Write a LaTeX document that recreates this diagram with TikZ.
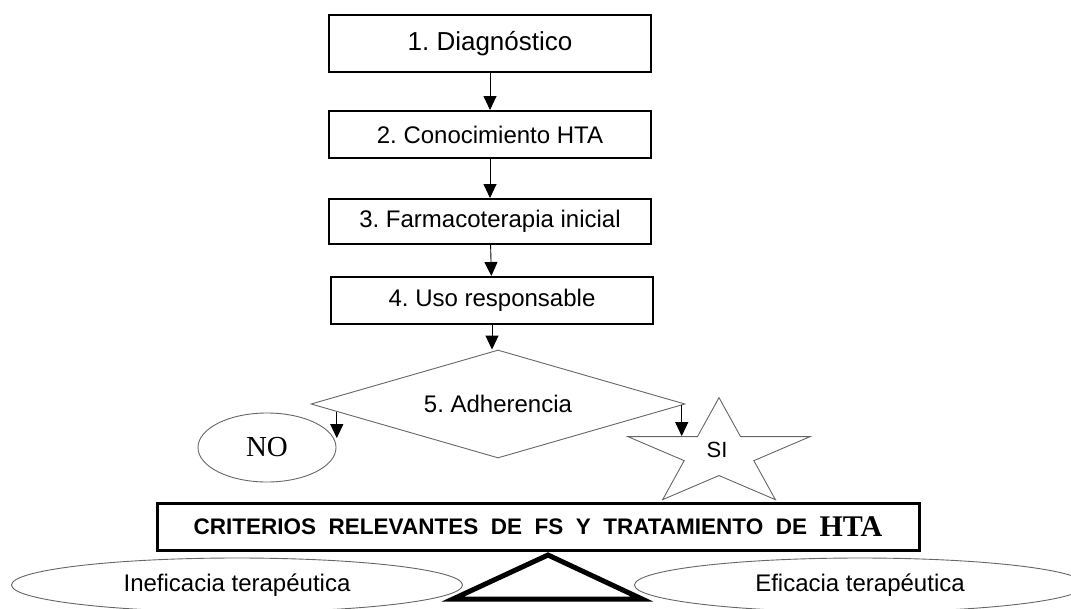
\documentclass[tikz,border=0pt]{standalone}
\usepackage{fontspec}
\setmainfont{Liberation Sans}
\newfontfamily\timesf{Liberation Serif}
\frenchspacing
\usetikzlibrary{arrows.meta,positioning,shapes.geometric,calc}
\tikzstyle{stepbox}=[draw,rectangle,line width=2pt,minimum width=322pt,minimum height=47pt,inner sep=0pt,font=\fontsize{24}{28}\selectfont]
\tikzstyle{grayline}=[draw=black!60,line width=0.9pt]
\tikzstyle{oval}=[ellipse,grayline,inner sep=0pt]
\tikzstyle{arr}=[-{Triangle[width=13pt,length=14pt]},line width=0.9pt]

\begin{document}
\begin{tikzpicture}
  [x=1pt,y=-1pt]
\useasboundingbox (0,0) rectangle (1071,608);
\node[stepbox,minimum height=57pt,font=\fontsize{26}{30}\selectfont] (d1) at (490,43.5) {1. Diagnóstico};
\node[stepbox] (d2) at (490,134.5) {2. Conocimiento HTA};
\node[stepbox,minimum height=45pt] (d3) at (490,221.5) {3. Farmacoterapia inicial\hspace{20pt}};
\node[stepbox] (d4) at (492,300.5) {4. Uso responsable};
\node[diamond,aspect=3.46,grayline,minimum width=374pt,minimum height=108pt,inner sep=0pt,font=\fontsize{24}{28}\selectfont] (adh) at (498,404) {5. Adherencia};
\node[oval,minimum width=138pt,minimum height=69pt,font=\timesf\fontsize{29}{32}\selectfont] (no) at (267,447.5) {NO};
\begin{scope}[shift={(719,454)},xscale=1.7]
  \node[star,star points=5,star point ratio=2.618,minimum size=112.8pt,inner sep=0pt,grayline,transform shape] (si) at (0,0) {};
\end{scope}
\node[font=\fontsize{22}{24}\selectfont] (silbl) at ($(si)+(-2,-4)$) {SI};
\node[draw,line width=3pt,minimum width=762pt,minimum height=47pt,inner sep=0pt,font=\bfseries\fontsize{22.5}{24}\selectfont] (crit) at (538,526.5)
  {CRITERIOS\ \ RELEVANTES\ \ DE\ \ FS\ \ Y\ \ TRATAMIENTO\ \ DE\ \ \raisebox{-2pt}{\timesf\bfseries\fontsize{30}{30}\selectfont HTA}\hspace{8pt}};
\node[oval,minimum width=451pt,minimum height=54pt,font=\fontsize{24}{28}\selectfont] (inef) at (237,585) {Ineficacia terapéutica};
\node[oval,minimum width=451pt,minimum height=54pt,font=\fontsize{24}{28}\selectfont] (ef) at (860,585) {Eficacia terapéutica};
\draw[line width=5pt,line join=miter] (453,599) -- (548,555) -- (642,599) -- cycle;
\coordinate (la) at ($(adh.west)!0.14!(adh.south)$);
\coordinate (ra) at ($(adh.east)!0.02!(adh.south)$);
\path[arr]
(d1) edge (d2)
(d2) edge (d3)
(d3) edge (d4)
(d4.south) edge (d4.south |- adh.north)
(la) edge (la |- no.8)
(ra) edge (ra |- si.outer point 2);
\end{tikzpicture}
\end{document}
